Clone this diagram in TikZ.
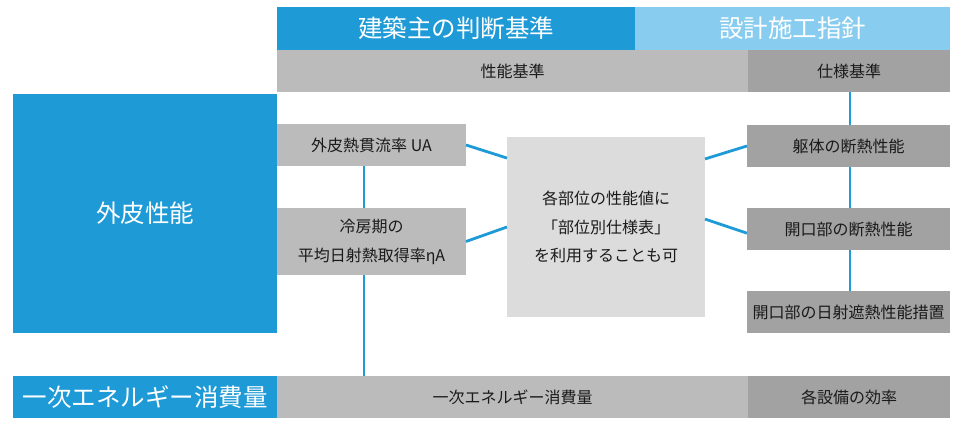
\documentclass[tikz,border=0pt]{standalone}
\usepackage{fontspec}
\setmainfont{Noto Sans CJK JP}
\usetikzlibrary{calc}
\definecolor{cblue}{HTML}{1E9AD6}
\definecolor{clblue}{HTML}{88CDF0}
\definecolor{cgray}{HTML}{BBBBBB}
\definecolor{cdgray}{HTML}{A2A2A2}
\definecolor{clgray}{HTML}{DCDCDC}
\definecolor{ctext}{HTML}{1A1A1A}
\begin{document}
\begin{tikzpicture}[x=1pt,y=-1pt,
  box/.style={rectangle,inner sep=0pt,outer sep=0pt,align=center,text=ctext,font=\fontsize{16}{29}\selectfont},
  bigbox/.style={box,text=white,font=\fontsize{24.5}{28}\selectfont},
  conn/.style={draw=cblue,line width=2.8pt}]
\useasboundingbox (0,0) rectangle (960,430);
% header row
\node[bigbox,fill=cblue,minimum width=358pt,minimum height=43pt] (hdrA) at (456,28.5) {建築主の判断基準};
\node[bigbox,fill=clblue,minimum width=315pt,minimum height=43pt] (hdrB) at (792.5,28.5) {設計施工指針};
% second row
\node[box,fill=cgray,minimum width=471pt,minimum height=42pt] (perf) at (512.5,71) {性能基準};
\node[box,fill=cdgray,minimum width=202pt,minimum height=42pt] (spec) at (849,71) {仕様基準};
% left
\node[bigbox,fill=cblue,minimum width=264pt,minimum height=239pt] (gaihi) at (145,213.5) {外皮性能};
\node[box,fill=cgray,minimum width=189pt,minimum height=42pt] (ua) at (371.5,145) {外皮熱貫流率 UA};
\node[box,fill=cgray,minimum width=189pt,minimum height=67pt] (eta) at (371.5,241.5) {冷房期の\\平均日射熱取得率ηA};
% center
\node[box,fill=clgray,minimum width=198pt,minimum height=180pt,font=\fontsize{16}{28.5}\selectfont] (center) at (606,227) {各部位の性能値に\\「部位別仕様表」\\を利用することも可};
% right
\node[box,fill=cdgray,minimum width=203pt,minimum height=42pt] (kutai) at (848.5,146) {躯体の断熱性能};
\node[box,fill=cdgray,minimum width=203pt,minimum height=42pt] (kaiko) at (848.5,229) {開口部の断熱性能};
\node[box,fill=cdgray,minimum width=203pt,minimum height=42pt] (nissha) at (848.5,312) {開口部の日射遮熱性能措置};
% bottom
\node[bigbox,fill=cblue,minimum width=264pt,minimum height=42pt] (enL) at (145,397) {一次エネルギー消費量};
\node[box,fill=cgray,minimum width=471pt,minimum height=42pt] (enM) at (512.5,397) {一次エネルギー消費量};
\node[box,fill=cdgray,minimum width=202pt,minimum height=42pt] (enR) at (849,397) {各設備の効率};
% connectors
\coordinate (xl) at (364,0);
\coordinate (xr) at (850,0);
\draw[conn] (ua.south -| xl) -- (eta.north -| xl);
\draw[conn] (eta.south -| xl) -- (enM.north -| xl);
\draw[conn] (spec.south -| xr) -- (kutai.north -| xr);
\draw[conn] (kutai.south -| xr) -- (kaiko.north -| xr);
\draw[conn] (kaiko.south -| xr) -- (nissha.north -| xr);
\draw[conn] (ua.east) -- ($(center.north west)!0.117!(center.south west)$);
\draw[conn] (eta.east) -- ($(center.north west)!0.5!(center.south west)$);
\draw[conn] ($(center.north east)!0.122!(center.south east)$) -- (kutai.west);
\draw[conn] ($(center.north east)!0.456!(center.south east)$) -- ($(kaiko.north west)!0.6!(kaiko.south west)$);
\end{tikzpicture}
\end{document}
